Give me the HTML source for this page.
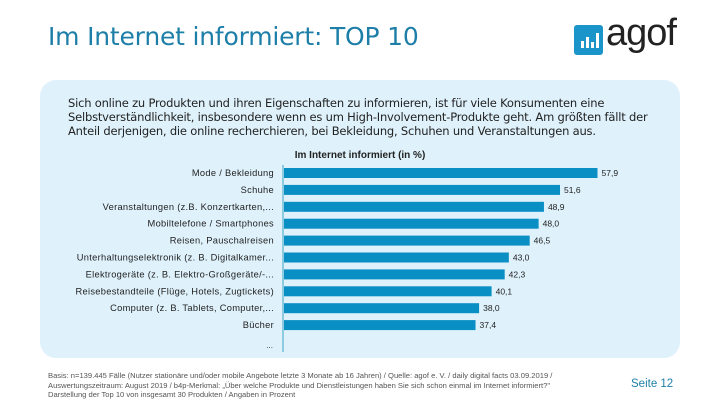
<!DOCTYPE html>
<html><head><meta charset="utf-8"><style>
body{margin:0;width:720px;height:405px;background:#fff;position:relative;overflow:hidden;font-family:"Liberation Sans","DejaVu Sans",sans-serif}
.abs{position:absolute}
</style></head><body>
<div class="abs" style="left:48px;top:22px;font-size:25px;color:#1d7fa8;font-family:'DejaVu Sans',sans-serif;letter-spacing:-0.2px">Im Internet informiert: TOP 10</div>
<div class="abs" style="left:574px;top:25px;width:29px;height:30px;background:#1a94c9;border-radius:3px">
<svg width="29" height="30"><rect x="7" y="16" width="3" height="7" fill="#fff"/><rect x="12" y="12" width="3" height="11" fill="#fff"/><rect x="17" y="17" width="3" height="6" fill="#fff"/><rect x="22" y="8" width="3" height="15" fill="#fff"/></svg></div>
<div class="abs" style="left:606px;top:12px;font-size:38px;color:#222;font-weight:300;letter-spacing:-1px">agof</div>
<div class="abs" style="left:40px;top:80px;width:640px;height:278px;background:#dff2fc;border-radius:16px"></div>
<div class="abs" style="left:68px;top:96px;width:590px;font-size:11.5px;line-height:14px;color:#222;font-family:'DejaVu Sans',sans-serif;letter-spacing:-0.2px">Sich online zu Produkten und ihren Eigenschaften zu informieren, ist für viele Konsumenten eine Selbstverständlichkeit, insbesondere wenn es um High-Involvement-Produkte geht. Am größten fällt der Anteil derjenigen, die online recherchieren, bei Bekleidung, Schuhen und Veranstaltungen aus.</div>
<svg class="abs" style="left:0;top:0" width="720" height="405" id="chart">
<text x="360" y="158" text-anchor="middle" font-size="10" font-weight="bold" fill="#222">Im Internet informiert (in %)</text>
<line x1="283" y1="165" x2="283" y2="352" stroke="#8ccbe0" stroke-width="2"/>
<text x="273" y="348" text-anchor="end" font-size="8" fill="#333">...</text>
</svg>
<div class="abs" style="left:48px;top:371px;width:580px;font-size:7.6px;line-height:9.5px;color:#555;white-space:nowrap">Basis: n=139.445 Fälle (Nutzer stationäre und/oder mobile Angebote letzte 3 Monate ab 16 Jahren) / Quelle: agof e. V. / daily digital facts 03.09.2019 /<br>Auswertungszeitraum: August 2019 / b4p-Merkmal: „Über welche Produkte und Dienstleistungen haben Sie sich schon einmal im Internet informiert?"<br>Darstellung der Top 10 von insgesamt 30 Produkten / Angaben in Prozent</div>
<div class="abs" style="left:631px;top:378px;font-size:11.5px;color:#1d7fa8">Seite 12</div>
<script>
const categories=["Mode / Bekleidung","Schuhe","Veranstaltungen (z.B. Konzertkarten,...","Mobiltelefone / Smartphones","Reisen, Pauschalreisen","Unterhaltungselektronik (z. B. Digitalkamer...","Elektrogeräte (z. B. Elektro-Großgeräte/-...","Reisebestandteile (Flüge, Hotels, Zugtickets)","Computer (z. B. Tablets, Computer,...","Bücher"];
const values=[57.9,51.6,48.9,48.0,46.5,43.0,42.3,40.1,38.0,37.4];
const valueLabels=["57,9","51,6","48,9","48,0","46,5","43,0","42,3","40,1","38,0","37,4"];
const svg=document.getElementById('chart');
const NS='http://www.w3.org/2000/svg';
function xScale(v){return 253+5.95*v;}
function yScale(i){return 173+16.9*i;}
categories.forEach((c,i)=>{
  const yc=yScale(i);
  const r=document.createElementNS(NS,'rect');
  r.setAttribute('x',284);r.setAttribute('y',yc-5);
  r.setAttribute('width',Math.max(0,xScale(values[i])-284));r.setAttribute('height',10);
  r.setAttribute('fill','#0a8fc5');
  
  
  svg.appendChild(r);
  const t=document.createElementNS(NS,'text');
  t.setAttribute('x',274);t.setAttribute('y',yc+3);t.setAttribute('text-anchor','end');
  t.setAttribute('font-size','9.3');t.setAttribute('letter-spacing','0.3');t.setAttribute('fill','#222');t.textContent=c;
  
  
  svg.appendChild(t);
  const v=document.createElementNS(NS,'text');
  v.setAttribute('x',xScale(values[i])+4);v.setAttribute('y',yc+3);
  v.setAttribute('font-size','8.5');v.setAttribute('fill','#222');v.textContent=valueLabels[i];
  
  
  svg.appendChild(v);
});
</script>
</body></html>
